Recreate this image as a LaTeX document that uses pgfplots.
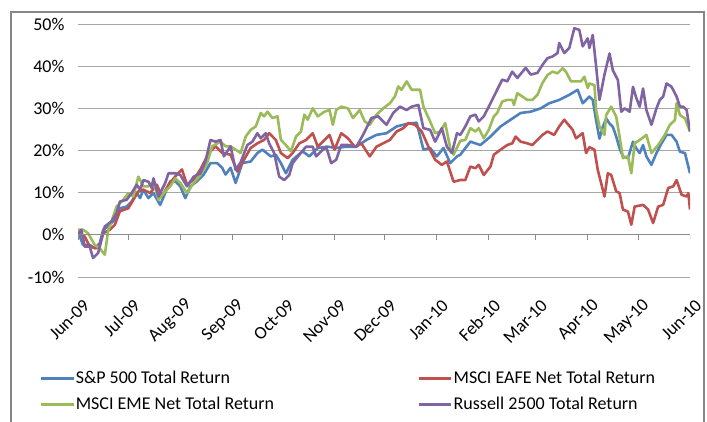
\documentclass[border=0pt]{standalone}
\usepackage{fontspec}
\setmainfont{Carlito}
\usepackage{pgfplots}
\pgfplotsset{compat=1.18}
\definecolor{spx}{HTML}{4F81BD}
\definecolor{eafe}{HTML}{C0504D}
\definecolor{eme}{HTML}{9BBB59}
\definecolor{rty}{HTML}{8064A2}
\definecolor{gridgray}{HTML}{A6A6A6}
\definecolor{axisgray}{HTML}{8C8C8C}
\definecolor{framegray}{HTML}{868686}

% x = days since 1 Jun 2009, y = cumulative return in %
\pgfplotstableread{
d r
0 0.8
3 -2.4
7 -2.4
10 -3.2
13 -2
15 1.2
18 2
22 3.6
25 6.3
29 6.7
32 7.9
35 10
37 8.7
39 10.7
42 8.7
45 9.9
49 7.1
52 9.9
55 12.7
58 12.7
61 11.5
64 8.7
67 11.5
71 12.7
75 14.3
79 17
83 17
86 15.9
88 14.3
91 15.9
94 12.3
98 17
103 17.4
107 19.4
110 20.2
115 18.6
118 19
121 17
124 14.6
128 17.8
134 19.8
138 18.6
143 20.6
149 20.9
154 20.6
160 20.9
166 20.9
172 22.5
178 23.7
184 24.1
190 25.7
196 26.3
202 26.6
206 20.2
210 20.6
214 18.6
218 20.6
222 17
226 18.6
228 19
234 22.1
240 21.3
246 23.3
252 25.7
258 27.3
264 28.9
270 29.2
276 30
281 31.2
287 32
293 33.2
298 34.4
301 31.2
305 32.8
307 32
309 27.2
311 22.8
313 25.6
315 27.6
317 26.4
319 25.6
321 23.3
323 20.5
325 18.6
328 18.2
331 22.1
333 20.5
335 19.4
337 21.3
339 18.6
342 16.6
345 19.4
348 21.7
351 23.7
354 23.7
357 22.1
359 19.7
362 19.4
365 14.6
}\spxdata

\pgfplotstableread{
d r
0 0.4
4 -0.4
7 -2.8
11 -3.2
13 -2.4
15 0.4
19 1.2
22 2.4
25 5.6
30 6.3
33 8.3
36 10.3
39 10.7
43 9.9
47 11.9
50 9.1
54 11.9
59 14.3
62 15.5
65 11.9
69 13.1
73 15.5
78 19.4
82 21
86 19.4
91 19
95 15
99 17.8
103 20.6
107 21.7
111 22.5
114 24.1
118 22.5
121 19.4
125 18.2
128 19.4
132 21.7
136 22.5
140 24.1
143 20.9
147 22.5
150 23.7
153 20.2
157 24.1
161 22.9
165 20.9
169 21.7
174 18.6
178 20.9
182 21.7
186 22.5
190 24.5
194 25.3
197 26.5
201 26.1
205 24.5
209 20.9
213 17.8
217 16.6
220 17.4
224 12.6
228 13
231 13
234 16.2
237 15.8
239 16.6
242 14.2
246 16.2
248 19
252 20.2
256 21.3
259 21.7
261 23.3
264 22.1
268 21.7
271 21.3
274 22.5
277 23.7
280 24.5
284 23.7
287 25.7
290 27.3
295 24.9
297 22.9
301 24.1
303 19.4
305 20.8
308 20.2
310 15.4
313 10.7
314 9.1
316 14.6
318 14.2
321 10.3
323 9.9
325 6
328 5.5
330 2.4
332 6.7
337 7.1
340 6
343 2.8
346 6.7
349 7.1
352 11.1
355 11.5
357 13
360 9.5
363 9.1
364 9.9
365 6
}\eafedata

\pgfplotstableread{
d r
0 1.2
3 1.2
6 0.4
10 -2.4
13 -3.2
16 -4.7
18 1
20 3.2
23 6.7
27 8.3
30 9.9
33 9.1
36 13.8
39 11.5
42 11.5
45 12.6
48 8.3
52 10.3
55 11.5
58 13.4
61 12.3
65 9.9
69 12.3
73 14.2
77 17
80 21
85 22.1
88 21
91 21
94 20.2
97 19.4
100 23.3
103 24.9
106 25.7
109 28.9
111 28.1
113 29.2
116 27.7
119 28.1
121 22.5
124 21.3
127 19.8
130 23.3
133 24.5
135 28.5
137 27.3
140 30
143 28.1
147 29.2
150 29.6
152 26.1
154 29.6
157 30.4
161 30
164 27.7
168 29.6
171 26.9
174 26.1
178 28.5
182 30
186 31.2
189 32.8
191 35.2
193 34.4
196 36.4
199 34.4
204 34.4
206 30.4
210 26.9
213 24.1
216 24.5
219 26.5
222 20.6
224 19
228 22.3
231 22.5
234 25.3
237 24.5
239 25.3
242 22.9
245 24.9
248 28.1
250 28.9
253 31.6
256 32
259 32
260 30.8
262 33.6
265 32.8
268 32
271 32
274 33.2
277 36
280 37.9
283 38.7
286 38.3
289 39.5
291 38.7
294 36.4
297 36.4
300 36.4
302 37.5
304 34.8
305 35.9
308 35.5
309 29.6
311 25.7
314 23.7
315 28.4
318 30.4
321 28
323 23.3
325 18.2
328 18.6
330 14.6
332 21.7
335 22.5
339 23.7
342 19.4
346 21.3
350 23.7
353 26.1
356 27.2
357 31.2
359 28.4
362 27.6
365 24.5
}\emedata

\pgfplotstableread{
d r
0 0
2 1.2
4 -2.8
7 -2.8
9 -5.5
12 -4.3
14 -1.2
16 2
20 3.2
23 5.1
25 7.9
29 8.3
32 9.9
35 11.9
37 10.7
39 13
42 12.6
44 11.1
45 13.4
48 9.1
52 12.3
54 14.6
58 14.6
61 14.2
65 11.5
69 13.8
73 14.6
76 17.4
79 22.5
82 22.1
85 22.5
87 18.6
91 21
94 15.4
97 17.2
101 21.3
104 22.1
107 24.1
109 22.9
112 24.1
114 21.7
117 19.4
120 13.8
123 13
126 14.2
128 17
132 19
136 20.9
140 20.9
142 18.6
145 19.8
148 20.9
151 17
154 17.8
157 21.3
161 21.3
166 20.9
170 23.7
175 27.7
179 28.1
184 26.1
188 28.9
192 30.4
196 29.6
199 30.4
203 30.8
206 25.3
210 24.9
213 22.1
217 25.3
220 20.9
223 19.4
226 24.1
228 23.7
231 25.7
234 28.1
237 28.5
239 26.9
242 28.1
245 30.4
248 32.8
250 34.4
253 36.8
256 36.4
259 38.7
262 37.2
267 39.6
270 38
274 38.4
277 40.3
280 41.9
283 42.3
286 43.1
287 45.5
290 43.1
293 44.3
296 49
299 48.6
301 44.7
304 46.6
305 44.3
307 47.4
309 40
311 32
314 38
317 43
319 39
322 36.7
324 29.2
326 30
329 29.2
331 35.1
333 32.4
335 30.4
337 34.7
339 29.6
342 26.1
345 30
347 32
349 32.8
351 35.9
354 35.1
357 32.8
359 30.4
361 30.4
363 29.6
365 24.5
}\rtydata

\begin{document}
\begin{tikzpicture}[x=1pt,y=1pt]
\begin{axis}[
  at={(78pt,144pt)}, anchor=south west,
  width=612pt, height=253pt, scale only axis,
  xmin=0, xmax=365, ymin=-10, ymax=50,
  axis line style={draw=none},
  major tick length=0pt,
  xtick={0,30,61,92,122,153,183,214,245,273,304,334,365},
  xticklabels={Jun-09,Jul-09,Aug-09,Sep-09,Oct-09,Nov-09,Dec-09,Jan-10,Feb-10,Mar-10,Apr-10,May-10,Jun-10},
  ytick={-10,0,10,20,30,40,50},
  yticklabels={-10\%,0\%,10\%,20\%,30\%,40\%,50\%},
  ymajorgrids,
  grid style={gridgray, line width=0.9pt},
  tick label style={font=\fontsize{18}{20}\selectfont},
  x tick label style={xshift=11pt, yshift=-23pt, rotate=45, anchor=east},
  y tick label style={xshift=-10pt},
  legend style={at={(axis description cs:0,0)}, anchor=north west,
    xshift=-38pt, yshift=-93pt, draw=none, fill=none, inner sep=0pt,
    legend columns=2, font=\fontsize{18}{20}\selectfont,
    nodes={inner sep=1pt}, row sep=10pt,
    /tikz/every even column/.append style={column sep=143pt}},
  legend cell align=left,
  legend image code/.code={\draw[#1, line width=2.6pt] (0pt,0pt) -- (32pt,0pt);},
  every axis plot/.append style={line width=2.6pt, line join=round},
]
\addplot[spx, no marks] table[x=d, y=r] {\spxdata};
\addlegendentry{S\&P 500 Total Return}
\addplot[eafe, no marks] table[x=d, y=r] {\eafedata};
\addlegendentry{MSCI EAFE Net Total Return}
\addplot[eme, no marks] table[x=d, y=r] {\emedata};
\addlegendentry{MSCI EME Net Total Return}
\addplot[rty, no marks] table[x=d, y=r] {\rtydata};
\addlegendentry{Russell 2500 Total Return}
\draw[axisgray, line width=0.9pt] (axis cs:0,0) -- (axis cs:365,0);
\pgfplotsinvokeforeach{0,30,61,92,122,153,183,214,245,273,304,334,365}{
  \draw[axisgray, line width=0.9pt] (axis cs:#1,0) -- ++(0pt,-5pt);
}
\end{axis}
\draw[framegray, line width=1.3pt] (11,-20) rectangle (704,409);
\pgfresetboundingbox
\useasboundingbox (0,0) rectangle (707,421);
\end{tikzpicture}
\end{document}
